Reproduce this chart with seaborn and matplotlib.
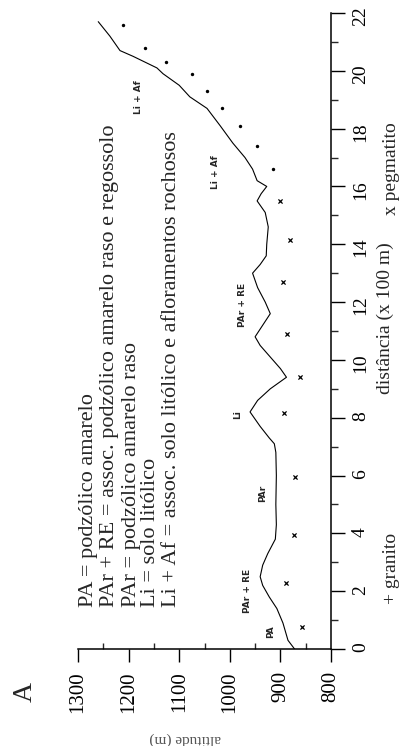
import numpy as np
import pandas as pd
import seaborn as sns
import matplotlib.pyplot as plt
from matplotlib.ticker import MultipleLocator

# perfil topografico: distancia (x 100 m) e altitude (m)
dist = [0.0, 0.3, 0.9, 1.4, 1.8, 2.2, 2.5, 2.9, 3.3, 3.8, 4.3, 5.0, 6.0, 6.8, 7.1,
        7.3, 7.7, 8.2, 8.6, 9.0, 9.4, 9.7, 10.1, 10.5, 10.8, 11.2, 11.6, 12.0, 12.5,
        13.0, 13.3, 13.6, 14.0, 14.6, 15.1, 15.5, 15.75, 16.0, 16.2, 16.6, 17.0, 17.5,
        18.1, 18.7, 19.1, 19.5, 19.9, 20.1, 20.5, 20.7, 21.2, 21.7]
alt = [872, 885, 895, 907, 922, 935, 940, 935, 925, 910, 908, 909, 908, 909, 912,
       922, 940, 960, 945, 920, 888, 900, 920, 940, 950, 935, 920, 930, 945,
       955, 940, 928, 927, 924, 930, 946, 938, 927, 946, 955, 970, 994,
       1019, 1045, 1079, 1100, 1132, 1144, 1191, 1217, 1237, 1260]

# amostras
marcas_dist = [0.75, 2.3, 3.95, 5.95, 8.15, 9.4, 10.9, 12.7, 14.15, 15.5]
marcas_alt = [858, 888, 873, 871, 893, 861, 887, 895, 881, 901]
pontos_dist = [16.6, 17.4, 18.1, 18.7, 19.3, 19.9, 20.3, 20.8, 21.6]
pontos_alt = [915, 946, 980, 1015, 1045, 1075, 1126, 1168, 1211]

# unidades de solo no perfil
solos = ['PA', 'PAr + RE', 'PAr', 'Li', 'PAr + RE', 'Li + Af', 'Li + Af']
solos_alt = [919, 966, 936, 984, 974, 1029, 1181]
solos_dist = [0.6, 2.0, 5.4, 8.1, 11.9, 16.5, 19.1]

legenda = ['PA = podzólico amarelo',
           'PAr + RE = assoc. podzólico amarelo raso e regossolo',
           'PAr = podzólico amarelo raso',
           'Li = solo litólico',
           'Li + Af = assoc. solo litólico e afloramentos rochosos']
legenda_alt = [1280, 1237, 1195, 1156, 1116]

sns.set_style('ticks')
plt.rcParams['font.family'] = ['Liberation Serif', 'DejaVu Serif']

fig = plt.figure(figsize=(4.06, 7.46), dpi=100)
ax = fig.add_axes([78/406, 1-649/746, 253/406, 636/746])

prof = pd.DataFrame({'alt': alt, 'dist': dist})
sns.lineplot(data=prof, x='alt', y='dist', sort=False, estimator=None,
             color='black', lw=0.8, ax=ax)
sns.scatterplot(x=marcas_alt, y=marcas_dist, marker='x', s=9, color='black',
                linewidth=0.9, ax=ax)
sns.scatterplot(x=pontos_alt, y=pontos_dist, marker='o', s=6, color='black',
                linewidth=0, ax=ax)

ax.set_xlim(1300, 800)
ax.set_ylim(0, 22)
ax.set_xticks(range(800, 1301, 100))
ax.xaxis.set_minor_locator(MultipleLocator(50))
ax.set_yticks(range(0, 23, 2))
ax.yaxis.set_minor_locator(MultipleLocator(1))
sns.despine(ax=ax, left=True, top=True, right=False)
ax.yaxis.tick_right()
ax.yaxis.set_label_position('right')
for s in ['right', 'bottom']:
    ax.spines[s].set_linewidth(1.1)
    ax.spines[s].set_color('black')

ax.tick_params(axis='x', which='major', direction='out', length=9, width=1,
               labelsize=15, labelrotation=90, pad=7, colors='black')
ax.tick_params(axis='x', which='minor', direction='in', length=4, width=1)
ax.tick_params(axis='y', which='major', direction='out', length=10, width=1,
               labelsize=14, labelrotation=90, pad=5, colors='black')
ax.tick_params(axis='y', which='minor', direction='out', length=5, width=1)

ax.set_ylabel('distância (x 100 m)', fontsize=14, rotation=90)
ax.yaxis.set_label_coords(1.18, 0.52)
ax.set_xlabel('altitude (m)', fontsize=11, rotation=180, color='#555555')
ax.xaxis.set_label_coords(0.423, -0.13)

for txt, a, d in zip(solos, solos_alt, solos_dist):
    ax.text(a, d, txt, rotation=90, ha='center', va='center', fontsize=6.5,
            fontweight='bold', family='DejaVu Sans')

for txt, a in zip(legenda, legenda_alt):
    ax.text(a, 1.45, txt, rotation=90, ha='center', va='bottom', fontsize=16)

ax.text(1.24, 16.6, 'x pegmatito', rotation=90, ha='center', va='center',
        fontsize=14, transform=ax.get_yaxis_transform(), clip_on=False)
ax.text(1.24, 2.8, '+ granito', rotation=90, ha='center', va='center',
        fontsize=14, transform=ax.get_yaxis_transform(), clip_on=False)

fig.text(25/406, 1-692/746, 'A', rotation=90, ha='center', va='center', fontsize=20)

fig.savefig('out.png', dpi=100)
